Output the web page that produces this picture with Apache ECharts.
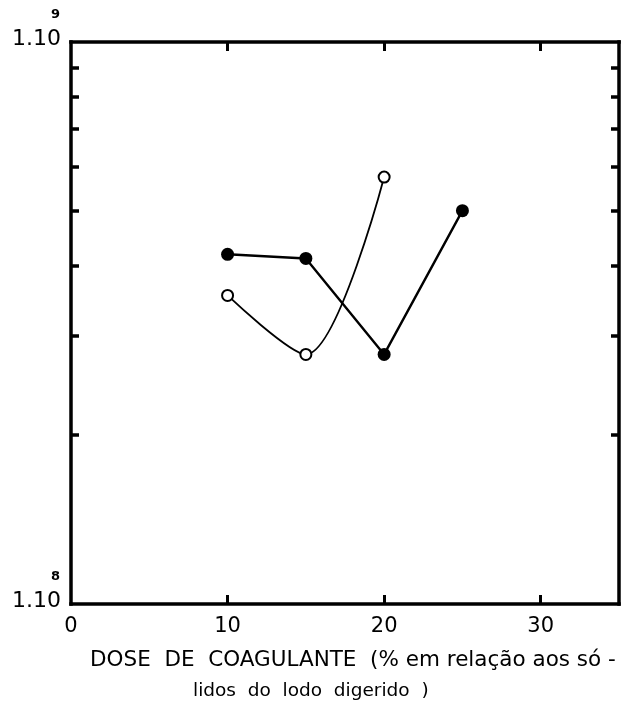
<!DOCTYPE html>
<html>
<head>
<meta charset="utf-8">
<script src="https://cdn.jsdelivr.net/npm/echarts@6/dist/echarts.min.js"></script>
<style>
  html, body { margin: 0; padding: 0; background: #fff; }
  #chart { width: 628px; height: 704px; }
</style>
</head>
<body>
<div id="chart"></div>
<script>
// Coagulant dose (x) against the measured quantity on a log scale (y)
var doseFilled = [10, 15, 20, 25];
var valuesFilled = [4.19e8, 4.12e8, 2.78e8, 5.01e8];

var doseOpen = [10, 15, 20];
var valuesOpen = [3.54e8, 2.78e8, 5.75e8];

var xTickValues = [0, 10, 20, 30];
var xInnerTicks = [10, 20, 30];
var yLabelValues = [1e8, 1e9];
var yMinorTicks = [2e8, 3e8, 4e8, 5e8, 6e8, 7e8, 8e8, 9e8];

var titleLine1 = 'DOSE  DE  COAGULANTE  (% em relação aos só -';
var titleLine2 = 'lidos  do  lodo  digerido  )';

var FONT = 'DejaVu Sans';
var INK = '#000';

function pairs(xs, ys) {
  return xs.map(function (x, i) { return [x, ys[i]]; });
}

var frameLine = { show: true, onZero: false, lineStyle: { color: INK, width: 3.5, cap: 'square' } };

var chart = echarts.init(document.getElementById('chart'), null, { renderer: 'canvas' });

chart.setOption({
  backgroundColor: '#fff',
  animation: false,
  grid: { left: 71, right: 9, top: 42, bottom: 100, containLabel: false },
  xAxis: [
    {
      type: 'value', position: 'bottom', min: 0, max: 35, interval: 10,
      axisLine: frameLine,
      axisTick: { show: true, inside: true, length: 9, customValues: xInnerTicks,
                  lineStyle: { color: INK, width: 3 } },
      axisLabel: { show: true, customValues: xTickValues, margin: 12,
                   fontFamily: FONT, fontSize: 21, color: INK },
      splitLine: { show: false }
    },
    {
      type: 'value', position: 'top', min: 0, max: 35, interval: 10,
      axisLine: frameLine,
      axisTick: { show: true, inside: true, length: 9, customValues: xInnerTicks,
                  lineStyle: { color: INK, width: 3 } },
      axisLabel: { show: false },
      splitLine: { show: false }
    }
  ],
  yAxis: [
    {
      type: 'log', logBase: 10, position: 'left', min: 1e8, max: 1e9,
      axisLine: frameLine,
      axisTick: { show: true, inside: true, length: 8, customValues: yMinorTicks,
                  lineStyle: { color: INK, width: 3.5 } },
      axisLabel: {
        show: true, customValues: yLabelValues, margin: 10,
        fontFamily: FONT, color: INK,
        formatter: function (v) {
          var e = Math.round(Math.log10(v));
          return '{e|' + e + '}\n{m|1.10}\n{s| }';
        },
        rich: {
          e: { fontFamily: FONT, fontSize: 13, fontWeight: 'bold', lineHeight: 28, color: INK, padding: [0, 1, 0, 0] },
          m: { fontFamily: FONT, fontSize: 22, lineHeight: 20, color: INK },
          s: { fontSize: 10, lineHeight: 34 }
        }
      },
      splitLine: { show: false }
    },
    {
      type: 'log', logBase: 10, position: 'right', min: 1e8, max: 1e9,
      axisLine: frameLine,
      axisTick: { show: true, inside: true, length: 8, customValues: yMinorTicks,
                  lineStyle: { color: INK, width: 3.5 } },
      axisLabel: { show: false },
      splitLine: { show: false }
    }
  ],
  series: [
    {
      name: 'filled',
      type: 'line',
      xAxisIndex: 0, yAxisIndex: 0,
      data: pairs(doseFilled, valuesFilled),
      smooth: false,
      symbol: 'circle', symbolSize: 13,
      lineStyle: { color: INK, width: 2.4 },
      itemStyle: { color: INK, borderColor: INK, borderWidth: 0 },
      z: 3
    },
    {
      name: 'open',
      type: 'line',
      xAxisIndex: 0, yAxisIndex: 0,
      data: pairs(doseOpen, valuesOpen),
      smooth: 0.3,
      symbol: 'circle', symbolSize: 11,
      showSymbol: true,
      lineStyle: { color: INK, width: 1.8 },
      itemStyle: { color: '#fff', borderColor: INK, borderWidth: 2 },
      z: 4
    }
  ],
  graphic: [
    {
      type: 'text', left: 90, top: 649,
      style: { text: titleLine1, fontFamily: FONT, fontSize: 21.5, fill: INK }
    },
    {
      type: 'text', left: 193, top: 682,
      style: { text: titleLine2, fontFamily: FONT, fontSize: 18.5, fill: INK }
    }
  ]
});
</script>
</body>
</html>
